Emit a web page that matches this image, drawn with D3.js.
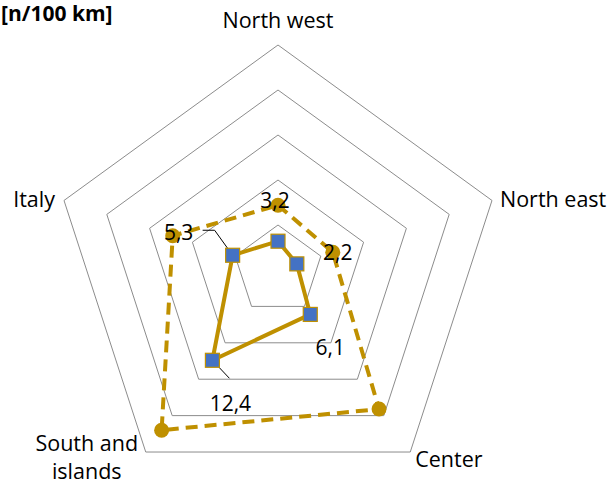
<!DOCTYPE html>
<html>
<head>
<meta charset="utf-8">
<script src="https://d3js.org/d3.v7.min.js"></script>
<style>
  body { margin: 0; background: #fff; }
  text { font-family: "Open Sans", "Noto Sans", sans-serif; fill: #000; }
</style>
</head>
<body>
<div id="radar"></div>
<script>
  // regions, clockwise from the top
  const regions = ["North west", "North east", "Center", "South and islands", "Italy"];
  const seriesSolid = [3.2, 2.2, 6.1, 12.4, 5.3];
  const seriesDashed = [7.2, 6.4, 19.1, 22.0, 12.3];
  const ringTicks = [5, 10, 15, 20, 25];
  const unitLabel = "[n/100 km]";

  function gen_radar() {
    const w = 615, h = 486;
    const cx = 278, cy = 270;
    const gold = "#bf9000", blue = "#4472c4";

    const svg = d3.select("#radar").append("svg")
        .attr("width", w)
        .attr("height", h)

    const r = d3.scaleLinear().domain([0, 25]).range([0, 225]);
    const ang = d3.scalePoint().domain(d3.range(regions.length + 1)).range([0, 2 * Math.PI]);
    const pt = (i, v) => {
      const a = ang(i);
      return [cx + r(v) * Math.sin(a), cy - r(v) * Math.cos(a)];
    };

    // grid pentagons
    svg.selectAll("polygon.ring")
      .data(ringTicks)
      .join("polygon")
        .attr("class", "ring")
        .attr("points", t => regions.map((_, i) => pt(i, t).join(",")).join(" "))
        .attr("fill", "none")
        .attr("stroke", "#8c8c8c")
        .attr("stroke-width", 1)

    const line = d3.line().curve(d3.curveLinearClosed);

    // dashed series
    svg.append("path")
        .attr("d", line(seriesDashed.map((v, i) => pt(i, v))))
        .attr("fill", "none")
        .attr("stroke", gold)
        .attr("stroke-width", 4)
        .attr("stroke-dasharray", "12,7")
    svg.selectAll("circle.dash")
      .data(seriesDashed)
      .join("circle")
        .attr("class", "dash")
        .attr("cx", (v, i) => pt(i, v)[0])
        .attr("cy", (v, i) => pt(i, v)[1])
        .attr("r", 7.5)
        .attr("fill", gold)

    // solid series
    svg.append("path")
        .attr("d", line(seriesSolid.map((v, i) => pt(i, v))))
        .attr("fill", "none")
        .attr("stroke", gold)
        .attr("stroke-width", 4)

    // leader lines for moved labels (Italy, South)
    const leaders = [
      {i: 4, pts: [[-30, -25], [-18, -25], [0, 0]]},
      {i: 3, pts: [[0, 0], [17, 18]]}
    ];
    leaders.forEach(l => {
      const p = pt(l.i, seriesSolid[l.i]);
      svg.append("path")
          .attr("d", d3.line()(l.pts.map(d => [p[0] + d[0], p[1] + d[1]])))
          .attr("fill", "none")
          .attr("stroke", "#000")
          .attr("stroke-width", 1)
    });

    svg.selectAll("rect.sq")
      .data(seriesSolid)
      .join("rect")
        .attr("class", "sq")
        .attr("x", (v, i) => pt(i, v)[0] - 7)
        .attr("y", (v, i) => pt(i, v)[1] - 7)
        .attr("width", 14)
        .attr("height", 14)
        .attr("fill", blue)
        .attr("stroke", gold)
        .attr("stroke-width", 1.2)

    // data labels (manually offset like the original)
    const labelOffsets = [[-3, -41], [41, -12], [20, 33], [18, 43], [-54, -23]];
    svg.selectAll("text.val")
      .data(seriesSolid)
      .join("text")
        .attr("class", "val")
        .attr("x", (v, i) => pt(i, v)[0] + labelOffsets[i][0])
        .attr("y", (v, i) => pt(i, v)[1] + labelOffsets[i][1])
        .attr("text-anchor", "middle")
        .attr("dominant-baseline", "central")
        .attr("font-size", "21px")
        .text(v => d3.format(".1f")(v).replace(".", ","))

    // category labels
    const catPos = [
      {dx: 0, dy: -26, anchor: "middle"},
      {dx: 8, dy: -2, anchor: "start"},
      {dx: 5, dy: 6, anchor: "start"},
      {dx: -59, dy: -10, anchor: "middle"},
      {dx: -9, dy: -2, anchor: "end"}
    ];
    regions.forEach((name, i) => {
      const p = pt(i, 25);
      const t = svg.append("text")
          .attr("x", p[0] + catPos[i].dx)
          .attr("y", p[1] + catPos[i].dy)
          .attr("text-anchor", catPos[i].anchor)
          .attr("dominant-baseline", "central")
          .attr("font-size", "21.5px")
      if (name === "South and islands") {
        t.append("tspan").attr("x", p[0] + catPos[i].dx).text("South and")
        t.append("tspan").attr("x", p[0] + catPos[i].dx).attr("dy", 28).text("islands")
      } else {
        t.text(name)
      }
    });

    svg.append("text")
        .attr("x", 1)
        .attr("y", 21)
        .attr("font-size", "21px")
        .attr("font-weight", "bold")
        .text(unitLabel)
  }

  gen_radar()
</script>
</body>
</html>
